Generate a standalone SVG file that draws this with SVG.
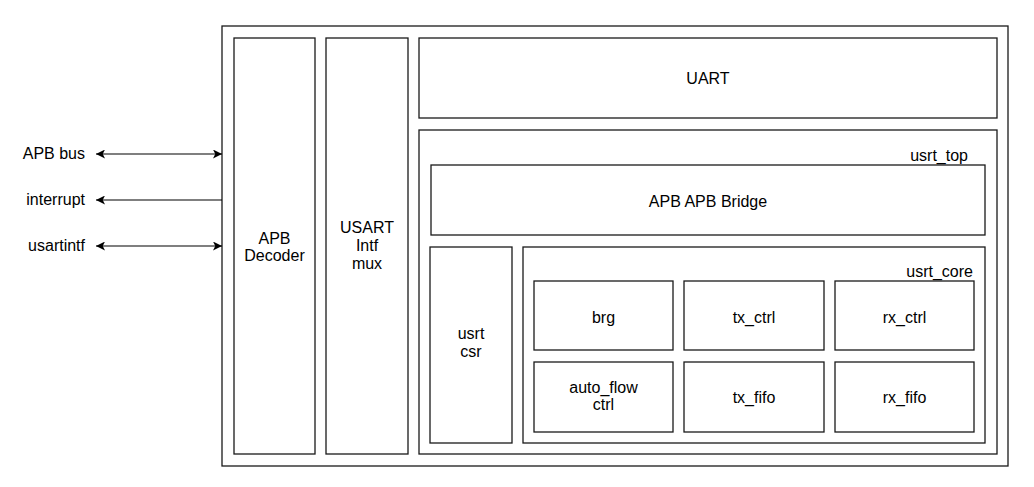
<svg xmlns="http://www.w3.org/2000/svg" width="1034" height="487" viewBox="0 0 1034 487">
<style>
rect.b{fill:#fff;stroke:#1a1a1a;stroke-width:1.3}
text{font-family:"Liberation Sans",Arial,sans-serif;font-size:16px;fill:#000}
.c{text-anchor:middle}
.r{text-anchor:end}
.w{stroke:#000;stroke-width:1.2;fill:none}
</style>
<defs>
<marker id="ah" viewBox="0 0 10 10" refX="10" refY="5" markerWidth="9" markerHeight="9" markerUnits="userSpaceOnUse" orient="auto-start-reverse">
<path d="M0,0 L10,5 L0,10 L2.5,5 Z" fill="#000"/>
</marker>
</defs>
<rect width="1034" height="487" fill="#fff"/>
<g id="outer"><rect class="b" x="222" y="26" width="786" height="440"/></g>
<g id="apb_decoder"><rect class="b" x="234" y="38" width="81" height="416"/><text class="c" x="274.5" y="244">APB</text><text class="c" x="274.5" y="261">Decoder</text></g>
<g id="usart_mux"><rect class="b" x="326" y="38" width="82" height="416"/><text class="c" x="367" y="233">USART</text><text class="c" x="367" y="251">Intf</text><text class="c" x="367" y="269">mux</text></g>
<g id="uart"><rect class="b" x="419" y="38" width="578" height="80"/><text class="c" x="708" y="84">UART</text></g>
<g id="usrt_top"><rect class="b" x="419" y="130" width="578" height="324"/><text class="r" x="968" y="161">usrt_top</text></g>
<g id="apb_bridge"><rect class="b" x="431" y="165" width="554" height="70"/><text class="c" x="708" y="207">APB APB Bridge</text></g>
<g id="usrt_csr"><rect class="b" x="430" y="247" width="82" height="196"/><text class="c" x="471" y="339">usrt</text><text class="c" x="471" y="357">csr</text></g>
<g id="usrt_core"><rect class="b" x="523" y="247" width="462" height="196"/><text class="r" x="973" y="277">usrt_core</text></g>
<g id="brg"><rect class="b" x="534" y="281" width="139" height="69"/><text class="c" x="603.5" y="323">brg</text></g>
<g id="tx_ctrl"><rect class="b" x="684" y="281" width="140" height="69"/><text class="c" x="754" y="323">tx_ctrl</text></g>
<g id="rx_ctrl"><rect class="b" x="835" y="281" width="139" height="69"/><text class="c" x="904.5" y="323">rx_ctrl</text></g>
<g id="auto_flow"><rect class="b" x="534" y="362" width="139" height="70"/><text class="c" x="603.5" y="393">auto_flow</text><text class="c" x="603.5" y="410">ctrl</text></g>
<g id="tx_fifo"><rect class="b" x="684" y="362" width="140" height="70"/><text class="c" x="754" y="403">tx_fifo</text></g>
<g id="rx_fifo"><rect class="b" x="835" y="362" width="139" height="70"/><text class="c" x="904.5" y="403">rx_fifo</text></g>
<g id="labels">
<text class="r" x="85" y="159">APB bus</text>
<text class="r" x="85" y="205">interrupt</text>
<text class="r" x="85" y="251">usartintf</text>
</g>
<g id="connectors">
<line class="w" x1="96" y1="154" x2="222" y2="154" marker-start="url(#ah)" marker-end="url(#ah)"/>
<line class="w" x1="222" y1="200" x2="96" y2="200" marker-end="url(#ah)"/>
<line class="w" x1="96" y1="246" x2="222" y2="246" marker-start="url(#ah)" marker-end="url(#ah)"/>
</g>
</svg>
